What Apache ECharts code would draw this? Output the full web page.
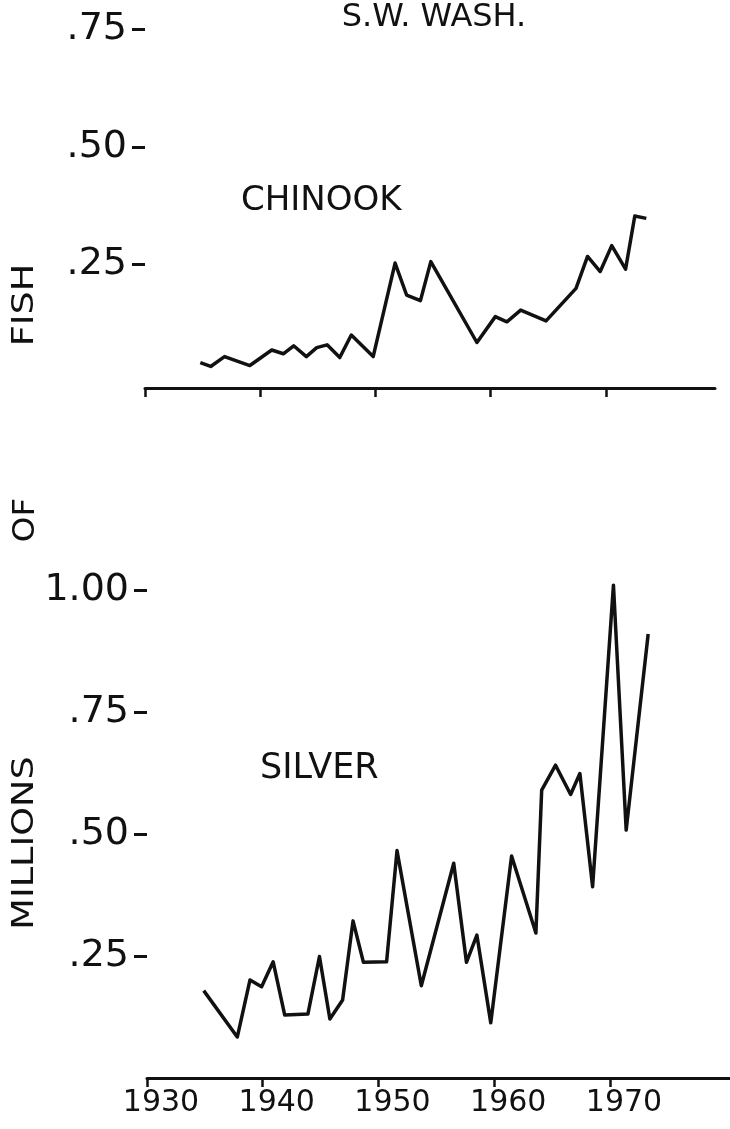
<!DOCTYPE html>
<html>
<head>
<meta charset="utf-8">
<script src="https://cdn.jsdelivr.net/npm/echarts@6/dist/echarts.min.js"></script>
<style>
html,body{margin:0;padding:0;background:#fff;}
#chart{width:730px;height:1129px;}
</style>
</head>
<body>
<div id="chart"></div>
<script>
// ---- data ----
const chinookYears = [1934.8, 1935.7, 1936.9, 1939.1, 1941.0, 1942.0, 1942.9, 1944.0, 1944.9, 1945.8, 1946.9, 1947.9, 1949.8, 1951.7, 1952.7, 1953.9, 1954.8, 1958.8, 1960.4, 1961.4, 1962.6, 1964.8, 1967.4, 1968.4, 1969.5, 1970.5, 1971.7, 1972.5, 1973.5];
const chinookValues = [0.041, 0.033, 0.054, 0.035, 0.068, 0.060, 0.077, 0.054, 0.073, 0.079, 0.052, 0.100, 0.054, 0.253, 0.185, 0.173, 0.256, 0.084, 0.139, 0.128, 0.153, 0.130, 0.199, 0.267, 0.235, 0.290, 0.240, 0.353, 0.348];

const silverYears = [1934.9, 1937.8, 1938.9, 1939.9, 1940.9, 1941.9, 1943.9, 1944.9, 1945.8, 1946.9, 1947.8, 1948.7, 1950.7, 1951.6, 1953.7, 1956.5, 1957.6, 1958.5, 1959.7, 1961.5, 1963.6, 1964.1, 1965.3, 1966.6, 1967.4, 1968.5, 1970.3, 1971.4, 1973.3];
const silverValues = [0.179, 0.084, 0.201, 0.187, 0.238, 0.129, 0.131, 0.249, 0.121, 0.160, 0.322, 0.237, 0.238, 0.466, 0.189, 0.440, 0.237, 0.293, 0.113, 0.455, 0.297, 0.590, 0.641, 0.581, 0.624, 0.392, 1.010, 0.508, 0.910];

const yearTicks = [1930, 1940, 1950, 1960, 1970];
const yearLabels = ['1930', '1940', '1950', '1960', '1970'];
const chinookTicks = [0.25, 0.5, 0.75];
const chinookTickLabels = ['.25', '.50', '.75'];
const silverTicks = [0.25, 0.5, 0.75, 1.0];
const silverTickLabels = ['.25', '.50', '.75', '1.00'];

const titleText = 'S.W. WASH.';
const chinookName = 'CHINOOK';
const silverName = 'SILVER';
const yTitleParts = ['FISH', 'OF', 'MILLIONS'];

// ---- chart ----
const INK = '#111111';
const FONT = '"DejaVu Sans", "Liberation Sans", sans-serif';

function pairs(xs, ys) { return xs.map((x, i) => [x, ys[i]]); }
function labelFor(ticks, labels) {
  return v => { const i = ticks.findIndex(t => Math.abs(t - v) < 1e-6); return i >= 0 ? labels[i] : ''; };
}

const chart = echarts.init(document.getElementById('chart'), null, {renderer: 'canvas'});

const yAxisCommon = {
  type: 'value',
  axisLine: {show: false},
  splitLine: {show: false},
  axisTick: {show: true, length: 13, lineStyle: {color: INK, width: 3}},
  axisLabel: {color: INK, fontFamily: FONT, fontSize: 38, margin: 18}
};
const xAxisCommon = {
  type: 'value',
  min: 1930,
  interval: 10,
  splitLine: {show: false},
  axisLine: {show: true, onZero: false, lineStyle: {color: INK, width: 3}},
  axisTick: {show: true, length: 9, customValues: yearTicks, lineStyle: {color: INK, width: 2.5}}
};

chart.setOption({
  animation: false,
  backgroundColor: '#ffffff',
  grid: [
    {left: 145, top: 20, width: 570, height: 368},
    {left: 147, top: 560, width: 583, height: 518}
  ],
  xAxis: [
    Object.assign({}, xAxisCommon, {gridIndex: 0, max: 1979.46, axisLabel: {show: false}}),
    Object.assign({}, xAxisCommon, {gridIndex: 1, max: 1980.37,
      axisLabel: {show: true, customValues: yearTicks, formatter: labelFor(yearTicks, yearLabels),
        color: INK, fontFamily: FONT, fontSize: 30, margin: 10, padding: [0, 0, 0, 28]}})
  ],
  yAxis: [
    Object.assign({}, yAxisCommon, {gridIndex: 0, min: -0.0128, max: 0.770,
      axisTick: Object.assign({}, yAxisCommon.axisTick, {customValues: chinookTicks}),
      axisLabel: Object.assign({}, yAxisCommon.axisLabel, {customValues: chinookTicks, formatter: labelFor(chinookTicks, chinookTickLabels)})}),
    Object.assign({}, yAxisCommon, {gridIndex: 1, min: 0, max: 1.0615,
      axisTick: Object.assign({}, yAxisCommon.axisTick, {customValues: silverTicks}),
      axisLabel: Object.assign({}, yAxisCommon.axisLabel, {customValues: silverTicks, formatter: labelFor(silverTicks, silverTickLabels)})})
  ],
  series: [
    {name: chinookName, type: 'line', xAxisIndex: 0, yAxisIndex: 0, data: pairs(chinookYears, chinookValues),
      showSymbol: false, symbol: 'none', lineStyle: {color: INK, width: 3.5, join: 'round'}},
    {name: silverName, type: 'line', xAxisIndex: 1, yAxisIndex: 1, data: pairs(silverYears, silverValues),
      showSymbol: false, symbol: 'none', lineStyle: {color: INK, width: 3.5, join: 'round'}}
  ],
  graphic: [
    {type: 'text', x: 434, y: 18, style: {text: titleText, font: '32px ' + FONT, fill: INK, align: 'center', verticalAlign: 'middle', textAlign: 'center', textVerticalAlign: 'middle'}},
    {type: 'text', x: 241, y: 201, style: {text: chinookName, font: '34px ' + FONT, fill: INK, align: 'left', verticalAlign: 'middle', textAlign: 'left', textVerticalAlign: 'middle'}},
    {type: 'text', x: 260, y: 769, style: {text: silverName, font: '35px ' + FONT, fill: INK, align: 'left', verticalAlign: 'middle', textAlign: 'left', textVerticalAlign: 'middle'}},
    {type: 'text', x: 25, y: 305, rotation: Math.PI / 2, scaleX: 1.18, style: {text: yTitleParts[0], font: '31px ' + FONT, fill: INK, align: 'center', verticalAlign: 'middle', textAlign: 'center', textVerticalAlign: 'middle'}},
    {type: 'text', x: 26, y: 520, rotation: Math.PI / 2, scaleX: 1.05, style: {text: yTitleParts[1], font: '31px ' + FONT, fill: INK, align: 'center', verticalAlign: 'middle', textAlign: 'center', textVerticalAlign: 'middle'}},
    {type: 'text', x: 25, y: 843, rotation: Math.PI / 2, scaleX: 1.18, style: {text: yTitleParts[2], font: '31px ' + FONT, fill: INK, align: 'center', verticalAlign: 'middle', textAlign: 'center', textVerticalAlign: 'middle'}}
  ]
});
</script>
</body>
</html>
